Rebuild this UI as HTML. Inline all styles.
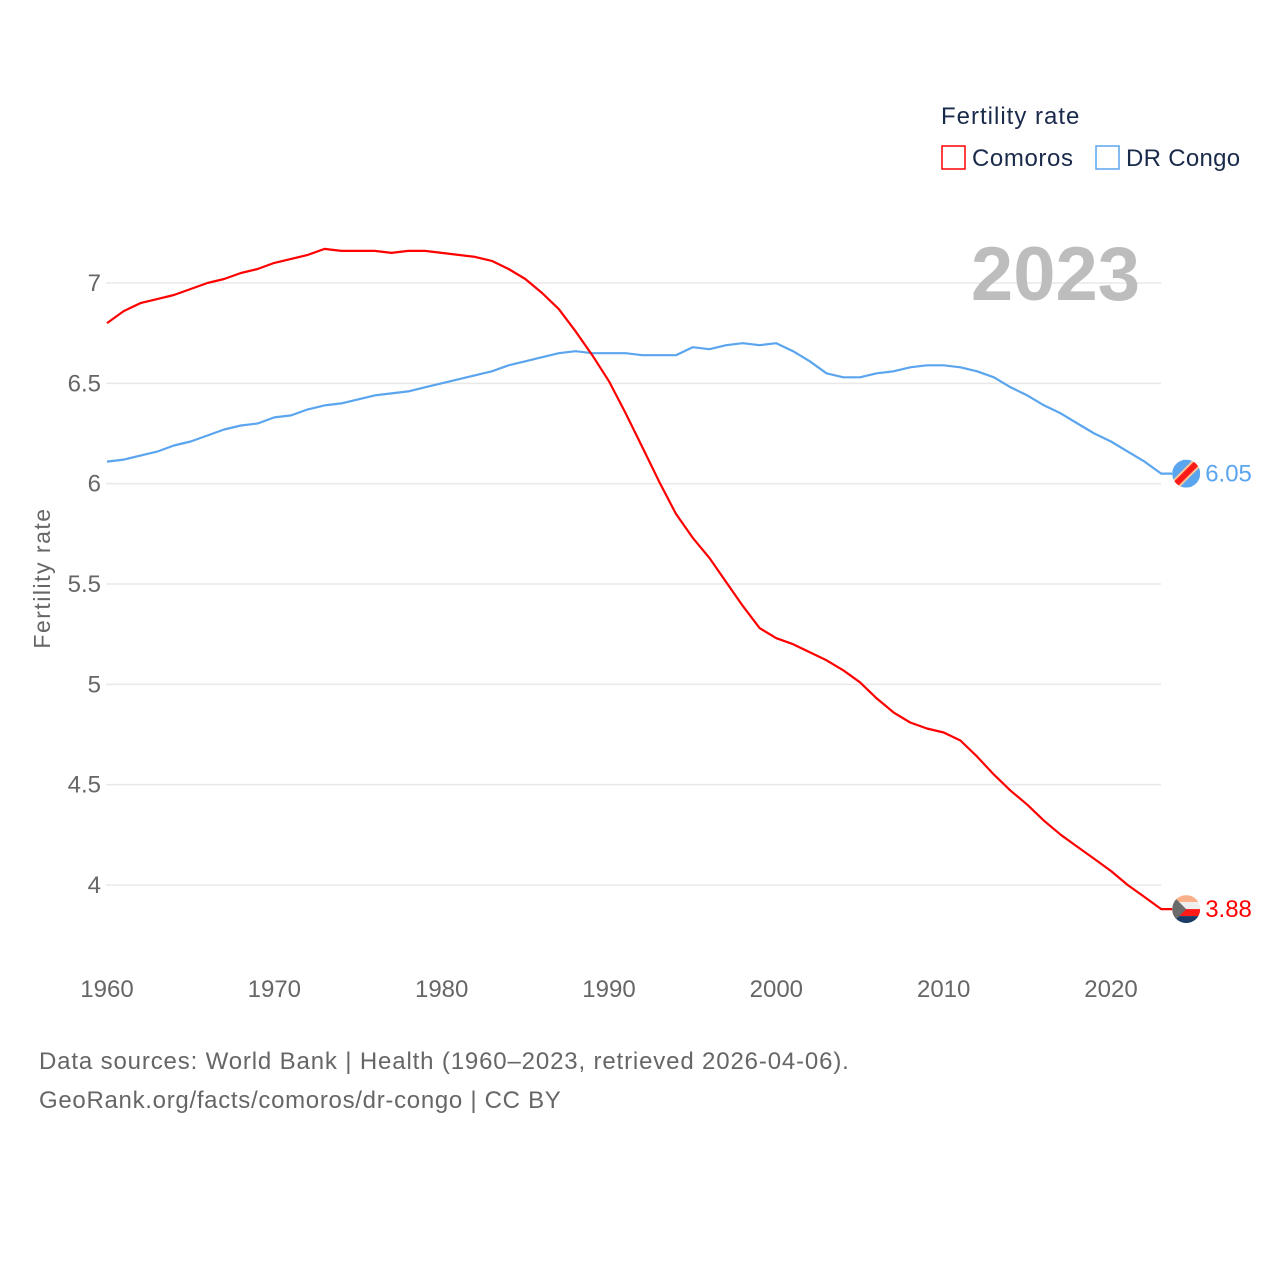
<!DOCTYPE html>
<html><head><meta charset="utf-8">
<style>
html,body{margin:0;padding:0;background:#fff;}
body{width:1280px;height:1280px;overflow:hidden;font-family:"Liberation Sans",sans-serif;}
</style></head>
<body>
<svg id="chart" width="1280" height="1280" xmlns="http://www.w3.org/2000/svg" font-family="Liberation Sans, sans-serif">
  <g id="grid"></g>
  <g id="yticks"></g>
  <g id="xticks"></g>
  <text x="0" y="0" transform="translate(50,578) rotate(-90)" text-anchor="middle" font-size="23" letter-spacing="1.5" fill="#666">Fertility rate</text>
  <text x="1140" y="300" text-anchor="end" font-size="76" font-weight="bold" fill="#bdbdbd">2023</text>
  <g>
    <text x="941" y="124" font-size="24" letter-spacing="1" fill="#1a2a4a">Fertility rate</text>
    <rect x="942" y="146" width="23" height="23" fill="none" stroke="#ff0000" stroke-width="1.5"/>
    <text x="972" y="166" font-size="24" letter-spacing="0.6" fill="#1a2a4a">Comoros</text>
    <rect x="1096" y="146" width="23" height="23" fill="none" stroke="#5aa5ee" stroke-width="1.5"/>
    <text x="1126" y="166" font-size="24" letter-spacing="0.3" fill="#1a2a4a">DR Congo</text>
  </g>
  <g id="series"></g>
  <text x="39" y="1069" font-size="24" letter-spacing="0.85" fill="#666">Data sources: World Bank | Health (1960–2023, retrieved 2026-04-06).</text>
  <text x="39" y="1108" font-size="24" letter-spacing="0.7" fill="#666">GeoRank.org/facts/comoros/dr-congo | CC BY</text>
</svg>
<script>
const years = [];
for (let y = 1960; y <= 2023; y++) years.push(y);
const comoros = [6.80,6.86,6.90,6.92,6.94,6.97,7.00,7.02,7.05,7.07,7.10,7.12,7.14,7.17,7.16,7.16,7.16,7.15,7.16,7.16,7.15,7.14,7.13,7.11,7.07,7.02,6.95,6.87,6.76,6.64,6.51,6.35,6.18,6.01,5.85,5.73,5.63,5.51,5.39,5.28,5.23,5.20,5.16,5.12,5.07,5.01,4.93,4.86,4.81,4.78,4.76,4.72,4.64,4.55,4.47,4.40,4.32,4.25,4.19,4.13,4.07,4.00,3.94,3.88];
const drcongo = [6.11,6.12,6.14,6.16,6.19,6.21,6.24,6.27,6.29,6.30,6.33,6.34,6.37,6.39,6.40,6.42,6.44,6.45,6.46,6.48,6.50,6.52,6.54,6.56,6.59,6.61,6.63,6.65,6.66,6.65,6.65,6.65,6.64,6.64,6.64,6.68,6.67,6.69,6.70,6.69,6.70,6.66,6.61,6.55,6.53,6.53,6.55,6.56,6.58,6.59,6.59,6.58,6.56,6.53,6.48,6.44,6.39,6.35,6.30,6.25,6.21,6.16,6.11,6.05];
const yTicks = [4,4.5,5,5.5,6,6.5,7];
const yTickLabels = ["4","4.5","5","5.5","6","6.5","7"];
const xTicks = [1960,1970,1980,1990,2000,2010,2020];

const NS = "http://www.w3.org/2000/svg";
const xS = v => 107 + (v - 1960) * (1111 - 107) / 60;
const yS = v => 885 - (v - 4) * (885 - 283) / 3;
function mk(tag, attrs, parent) {
  const e = document.createElementNS(NS, tag);
  for (const k in attrs) e.setAttribute(k, attrs[k]);
  parent.appendChild(e);
  return e;
}
const grid = document.getElementById('grid');
const yt = document.getElementById('yticks');
const xt = document.getElementById('xticks');
const ser = document.getElementById('series');
yTicks.forEach((v, i) => {
  const l = mk('line', {x1:106, x2:1161, y1:yS(v), y2:yS(v), stroke:'#e8e8e8', 'stroke-width':1.5}, grid);
  
  
  const t = mk('text', {x:101, y:yS(v)+8, 'text-anchor':'end', 'font-size':24, fill:'#666'}, yt);
  t.textContent = yTickLabels[i];
  
  
});
xTicks.forEach(v => {
  const t = mk('text', {x:xS(v), y:997, 'text-anchor':'middle', 'font-size':24, fill:'#666'}, xt);
  t.textContent = v;
  
  
});
function drawSeries(vals, color, name) {
  let d = vals.map((v, i) => (i ? 'L' : 'M') + xS(years[i]).toFixed(1) + ',' + yS(v).toFixed(1)).join('');
  const last = vals[vals.length - 1];
  d += 'L' + (xS(years[years.length-1]) + 11) + ',' + yS(last).toFixed(1);
  const p = mk('path', {d:d, fill:'none', stroke:color, 'stroke-width':2.2, 'stroke-linejoin':'round'}, ser);
  
  
  const cx = xS(years[years.length-1]) + 25, cy = yS(last);
  const g = mk('g', {}, ser);
  
  
  mk('clipPath', {id:'clip-' + name}, g);
  mk('circle', {cx:cx, cy:cy, r:14}, g.lastChild);
  const inner = mk('g', {'clip-path':'url(#clip-' + name + ')'}, g);
  if (name === 'dr-congo') {
    mk('rect', {x:cx-14, y:cy-14, width:28, height:28, fill:'#5aa5ee'}, inner);
    mk('line', {x1:cx-16, y1:cy+16, x2:cx+16, y2:cy-16, stroke:'#f9c69a', 'stroke-width':10}, inner);
    mk('line', {x1:cx-16, y1:cy+16, x2:cx+16, y2:cy-16, stroke:'#ff1a1a', 'stroke-width':6}, inner);
  } else {
    mk('rect', {x:cx-14, y:cy-14, width:28, height:7, fill:'#fbb08a'}, inner);
    mk('rect', {x:cx-14, y:cy-7, width:28, height:7, fill:'#eeeeee'}, inner);
    mk('rect', {x:cx-14, y:cy, width:28, height:7, fill:'#ff1a1a'}, inner);
    mk('rect', {x:cx-14, y:cy+7, width:28, height:7, fill:'#1b3a66'}, inner);
    mk('path', {d:'M'+(cx-14)+','+(cy-14)+'L'+(cx)+','+cy+'L'+(cx-14)+','+(cy+14)+'Z', fill:'#6b6b6b'}, inner);
  }
  const t = mk('text', {x:cx+19, y:cy+8, 'font-size':24, fill:color}, ser);
  t.textContent = last.toFixed(2);
  
  
}
drawSeries(drcongo, '#5aa5ee', 'dr-congo');
drawSeries(comoros, '#ff0000', 'comoros');
</script>
</body></html>
